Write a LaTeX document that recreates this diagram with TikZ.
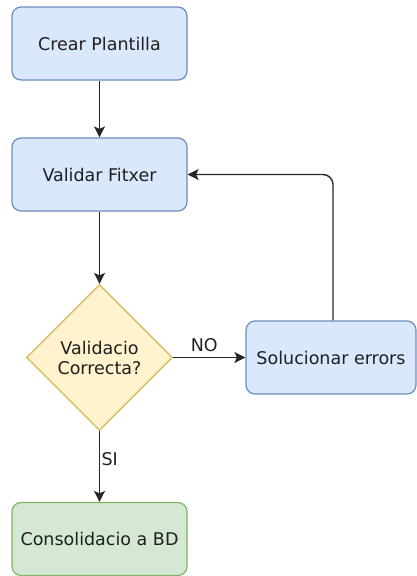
\documentclass[tikz,border=0pt]{standalone}
\usepackage{fontspec}
\setmainfont{DejaVu Sans}
\usetikzlibrary{shapes.geometric,arrows.meta}
\definecolor{bluefill}{HTML}{DAE8FC}
\definecolor{bluedraw}{HTML}{6C8EBF}
\definecolor{yellowfill}{HTML}{FFF2CC}
\definecolor{yellowdraw}{HTML}{D6B656}
\definecolor{greenfill}{HTML}{D5E8D4}
\definecolor{greendraw}{HTML}{82B366}
\tikzset{
  every node/.style={font=\fontsize{17.5}{20}\selectfont, text=black!88},
  procbox/.style={rectangle, rounded corners=9pt, line width=1.2pt,
    minimum width=175pt, minimum height=73pt, inner sep=0pt},
  bluebox/.style={procbox, fill=bluefill, draw=bluedraw},
  greenbox/.style={procbox, fill=greenfill, draw=greendraw},
  decision/.style={diamond, aspect=1, fill=yellowfill, draw=yellowdraw,
    line width=1.2pt, minimum width=146pt, minimum height=146pt, inner sep=0pt,
    align=center},
  flow/.style={draw=black!85, line width=1.4pt,
    -{Stealth[length=11pt,width=11pt,inset=2.5pt]}},
  edgelabel/.style={font=\fontsize{17.5}{20}\selectfont}
}
\begin{document}
\begin{tikzpicture}[x=1pt, y=-1pt]
  \useasboundingbox (0,0) rectangle (416,576);
  \fill[white] (0,0) rectangle (416,576);

  \node[bluebox] (crear) at (99.5,43.5) {Crear Plantilla};
  \node[bluebox] (validar) at (99.5,174.5) {Validar Fitxer};
  \node[decision] (check) at (99.5,357.5) {Validacio\\Correcta?};
  \node[bluebox, minimum width=170pt] (fix) at (331,357.5) {Solucionar errors};
  \node[greenbox] (consol) at (99.5,539) {Consolidacio a BD};

  \draw[flow] (crear) -- (validar);
  \draw[flow] (validar) -- (check);
  \draw[flow] (check) -- node[edgelabel, above, pos=0.43, yshift=2pt] (no) {NO} (fix);
  \draw[flow] (check) -- node[edgelabel, right, pos=0.4, xshift=-2pt] (si) {SI} (consol);
  \draw[flow, rounded corners=10pt] (fix.north -| 333,0) |- (validar.east);
\end{tikzpicture}
\end{document}
